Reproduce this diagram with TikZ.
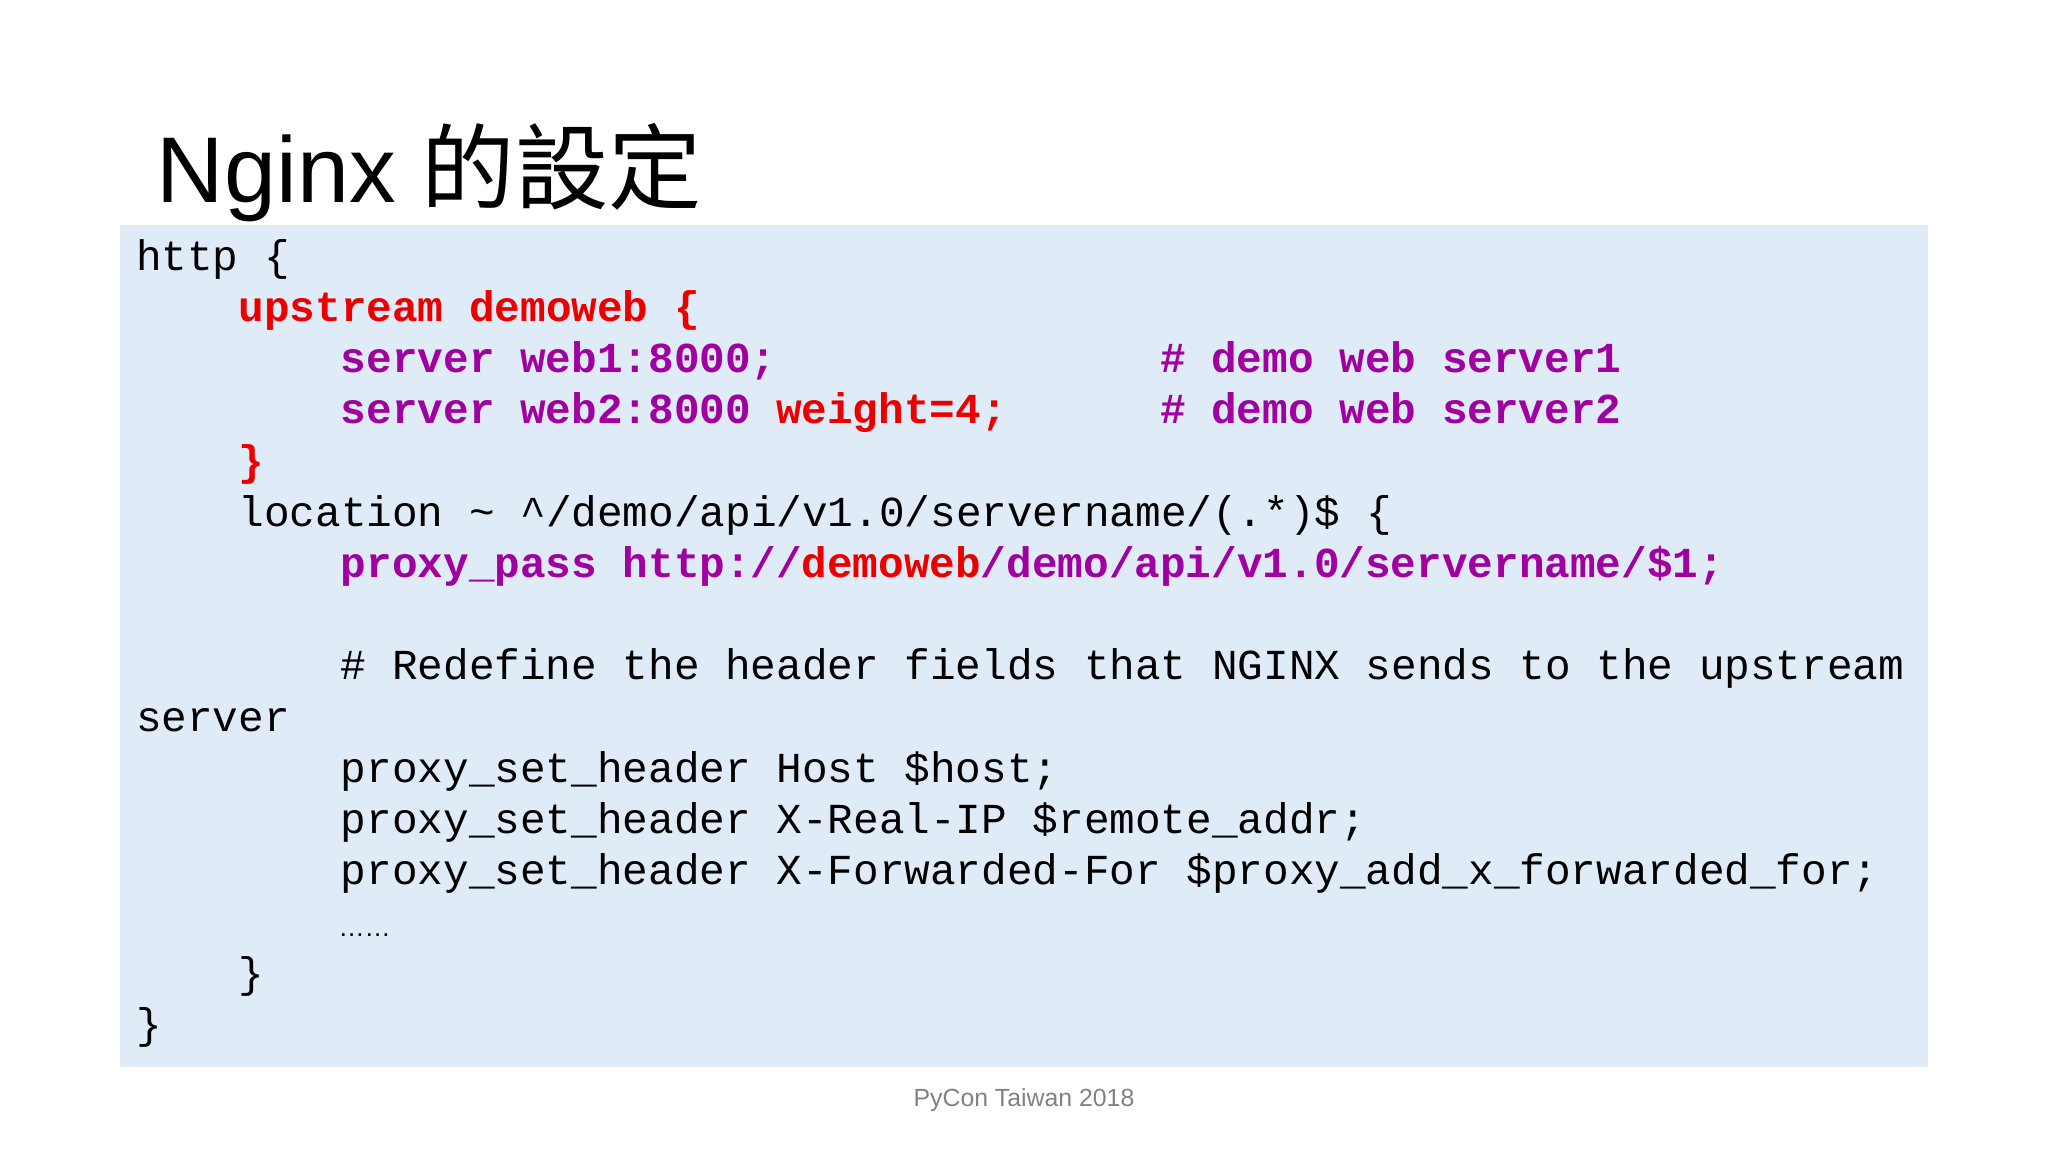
\documentclass[tikz,border=0pt]{standalone}
\usepackage{fontspec}
\setmainfont{Liberation Sans}
\setmonofont{Liberation Mono}
\newfontfamily\cjk{Noto Sans CJK TC}
\definecolor{boxbg}{RGB}{223,235,246}
\definecolor{kwred}{RGB}{235,0,0}
\definecolor{kwpur}{RGB}{160,0,160}
\definecolor{foot}{RGB}{130,130,130}
\tikzset{code/.style={anchor=base west,inner sep=0pt,font=\fontsize{32.7}{36}\ttfamily},
 red/.style={code,text=kwred,font=\fontsize{32.7}{36}\ttfamily\bfseries},
 pur/.style={code,text=kwpur,font=\fontsize{32.7}{36}\ttfamily\bfseries}}
\newcommand\cl[5][code]{\node[#1] (#2) at ({104+#3*19.6},{-(207+#4*39.2)}) {#5};}
\begin{document}
\begin{tikzpicture}[x=1pt,y=1pt]
\useasboundingbox (0,0) rectangle (1568,-882);
\fill[white] (0,0) rectangle (1568,-882);
\fill[boxbg] (92,-172) rectangle (1476,-817);
\node[anchor=base west,inner sep=0pt,font=\fontsize{71.5}{80}\selectfont] (title) at (120,-155) {Nginx {\cjk 的設定}};
\cl{l0}{0}{0}{http \{}
\cl[red]{l1}{4}{1}{upstream demoweb \{}
\cl[pur]{l2a}{8}{2}{server web1:8000;}
\cl[pur]{l2b}{40}{2}{\# demo web server1}
\cl[pur]{l3a}{8}{3}{server web2:8000}
\cl[red]{l3b}{25}{3}{weight=4;}
\cl[pur]{l3c}{40}{3}{\# demo web server2}
\cl[red]{l4}{4}{4}{\}}
\cl{l5}{4}{5}{location \textasciitilde{} \textasciicircum/demo/api/v1.0/servername/(.*)\$ \{}
\cl[pur]{l6a}{8}{6}{proxy\_pass http://}
\cl[red]{l6b}{26}{6}{demoweb}
\cl[pur]{l6c}{33}{6}{/demo/api/v1.0/servername/\$1;}
\cl{l8}{8}{8}{\# Redefine the header fields that NGINX sends to the upstream}
\cl{l9}{0}{9}{server}
\cl{l10}{8}{10}{proxy\_set\_header Host \$host;}
\cl{l11}{8}{11}{proxy\_set\_header X-Real-IP \$remote\_addr;}
\cl{l12}{8}{12}{proxy\_set\_header X-Forwarded-For \$proxy\_add\_x\_forwarded\_for;}
\node[anchor=base west,inner sep=0pt,font=\fontsize{20}{24}\selectfont] (l13) at (259,-717) {……};
\cl{l14}{4}{14}{\}}
\cl{l15}{0}{15}{\}}
\node[text=foot,inner sep=0pt,font=\fontsize{19}{22}\selectfont] (footer) at (784,-842) {PyCon Taiwan 2018};
\end{tikzpicture}
\end{document}
